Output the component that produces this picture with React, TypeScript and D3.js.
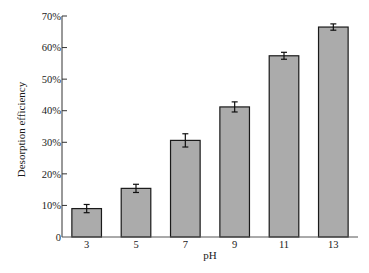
import React from "react";
import * as d3 from "d3";

const categories = ["3", "5", "7", "9", "11", "13"];
const values = [9.0, 15.4, 30.6, 41.2, 57.4, 66.5];
const errors = [1.3, 1.3, 2.1, 1.6, 1.1, 1.0];
const yTicks = [0, 10, 20, 30, 40, 50, 60, 70];

const W = 369, H = 273;
const left = 62, right = 358, top = 16, bottom = 237;

export default function App() {
  const x = d3.scaleBand<string>().domain(categories).range([left, right]).paddingInner(0.4).paddingOuter(0.2);
  const y = d3.scaleLinear().domain([0, 70]).range([bottom, top]);
  const font = "'Liberation Serif', 'Times New Roman', serif";
  return (
    <svg width={W} height={H} style={{ position: "absolute", left: 0, top: 0, background: "#fff" }} fontFamily={font}>
      {categories.map((c, i) => {
        const bx = x(c)!;
        const bw = x.bandwidth();
        const cx = bx + bw / 2;
        return (
          <g key={c}>
            <rect x={bx} y={y(values[i])} width={bw} height={y(0) - y(values[i])} fill="#ababab" stroke="#1a1a1a" strokeWidth={1.2} />
            <line x1={cx} x2={cx} y1={y(values[i] + errors[i])} y2={y(values[i] - errors[i])} stroke="#111" strokeWidth={1.2} />
            <line x1={cx - 3} x2={cx + 3} y1={y(values[i] + errors[i])} y2={y(values[i] + errors[i])} stroke="#111" strokeWidth={1.2} />
            <line x1={cx - 3} x2={cx + 3} y1={y(values[i] - errors[i])} y2={y(values[i] - errors[i])} stroke="#111" strokeWidth={1.2} />
            <text x={cx} y={248} textAnchor="middle" fontSize={10.5} fill="#1a1a1a">{c}</text>
          </g>
        );
      })}
      <line x1={left} x2={left} y1={top} y2={bottom} stroke="#333" strokeWidth={1} />
      <line x1={left} x2={right} y1={bottom} y2={bottom} stroke="#555" strokeWidth={1} />
      {yTicks.map((t) => (
        <g key={t}>
          {t > 0 && <line x1={left} x2={left + 5} y1={y(t)} y2={y(t)} stroke="#333" strokeWidth={1} />}
          <text x={left - 1} y={y(t)} dy="0.35em" textAnchor="end" fontSize={10.5} fill="#1a1a1a">
            {t === 0 ? "0" : `${t}%`}
          </text>
        </g>
      ))}
      <text x={(left + right) / 2} y={259} textAnchor="middle" fontSize={11} fill="#1a1a1a">pH</text>
      <text transform={`translate(25, ${(top + bottom) / 2 + 3}) rotate(-90)`} textAnchor="middle" fontSize={11} fill="#1a1a1a">
        Desorption efficiency
      </text>
    </svg>
  );
}
